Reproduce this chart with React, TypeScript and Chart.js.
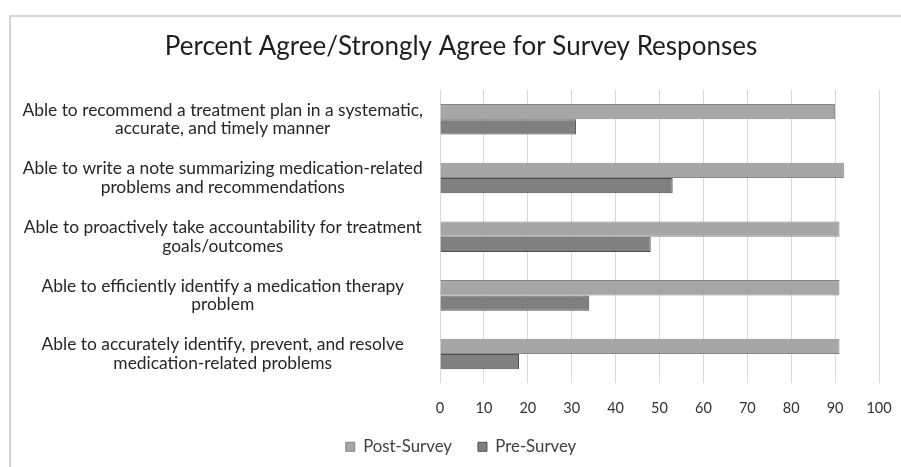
import React, { useEffect, useRef } from "react";
import { Chart, registerables } from "chart.js";

Chart.register(...registerables);

const categories: string[][] = [
  ["Able to recommend a treatment plan in a systematic,", "accurate, and timely manner"],
  ["Able to write a note summarizing medication-related", "problems and recommendations"],
  ["Able to proactively take accountability for treatment", "goals/outcomes"],
  ["Able to efficiently identify a medication therapy", "problem"],
  ["Able to accurately identify, prevent, and resolve", "medication-related problems"],
];
const postSurvey: number[] = [90, 92, 91, 91, 91];
const preSurvey: number[] = [31, 53, 48, 34, 18];
const seriesNames: string[] = ["Post-Survey", "Pre-Survey"];
const xMin = 0;
const xMax = 100;
const xStep = 10;
const titleText = "Percent Agree/Strongly Agree for Survey Responses";

const FONT = "Lato, 'Open Sans', sans-serif";

export default function App() {
  const ref = useRef<HTMLCanvasElement | null>(null);

  useEffect(() => {
    if (!ref.current) return;
    const chart = new Chart(ref.current, {
      type: "bar",
      data: {
        labels: categories,
        datasets: [
          {
            label: seriesNames[0],
            data: postSurvey,
            backgroundColor: "#a6a6a6",
            borderColor: "#858585",
            borderWidth: 1,
            barPercentage: 1,
            categoryPercentage: 0.52,
          },
          {
            label: seriesNames[1],
            data: preSurvey,
            backgroundColor: "#808080",
            borderColor: "#4f4f4f",
            borderWidth: 1,
            barPercentage: 1,
            categoryPercentage: 0.52,
          },
        ],
      },
      options: {
        indexAxis: "y",
        responsive: false,
        animation: false,
        devicePixelRatio: 1,
        layout: { padding: { left: 21, right: 0, top: 18, bottom: 1.8 } },
        scales: {
          x: {
            min: xMin,
            max: xMax,
            grid: { color: "#d9d9d9", lineWidth: 1, drawTicks: false },
            border: { display: false },
            ticks: {
              stepSize: xStep,
              mirror: true,
              padding: -33.7,
              color: "#333333",
              font: { family: FONT, size: 14.5 },
            },
            afterFit: (scale: any) => {
              scale.height = 29;
            },
          },
          y: {
            grid: { display: false, drawTicks: false },
            border: { display: false },
            ticks: {
              crossAlign: "center",
              padding: 17,
              color: "#262626",
              font: { family: FONT, size: 17.4, lineHeight: 1.08 },
            },
            afterFit: (scale: any) => {
              scale.width = 419;
            },
          },
          y2: {
            type: "category",
            position: "right",
            display: true,
            grid: { display: false, drawTicks: false },
            border: { display: false },
            ticks: { display: false },
            afterFit: (scale: any) => {
              scale.width = 22;
            },
          },
        },
        plugins: {
          title: {
            display: true,
            text: titleText,
            color: "#1f1f1f",
            font: { family: FONT, size: 26, weight: "normal" },
            padding: { top: 13.4, bottom: 27.4 },
          },
          legend: {
            position: "bottom",
            labels: {
              boxWidth: 9,
              boxHeight: 9,
              padding: 26,
              color: "#404040",
              font: { family: FONT, size: 16.8 },
            },
          },
          tooltip: { enabled: false },
        },
      },
    });
    return () => chart.destroy();
  }, []);

  return (
    <div
      style={{
        position: "fixed",
        left: 0,
        top: 0,
        width: 901,
        height: 467,
        background: "#ffffff",
        overflow: "hidden",
      }}
    >
      <div
        style={{
          position: "absolute",
          left: 9,
          top: 15,
          width: 920,
          height: 480,
          borderTop: "2px solid #d4d4d4",
          borderLeft: "2px solid #d4d4d4",
        }}
      />
      <canvas
        ref={ref}
        width={901}
        height={467}
        style={{ position: "absolute", left: 0, top: 0, width: 901, height: 467 }}
      />
    </div>
  );
}
